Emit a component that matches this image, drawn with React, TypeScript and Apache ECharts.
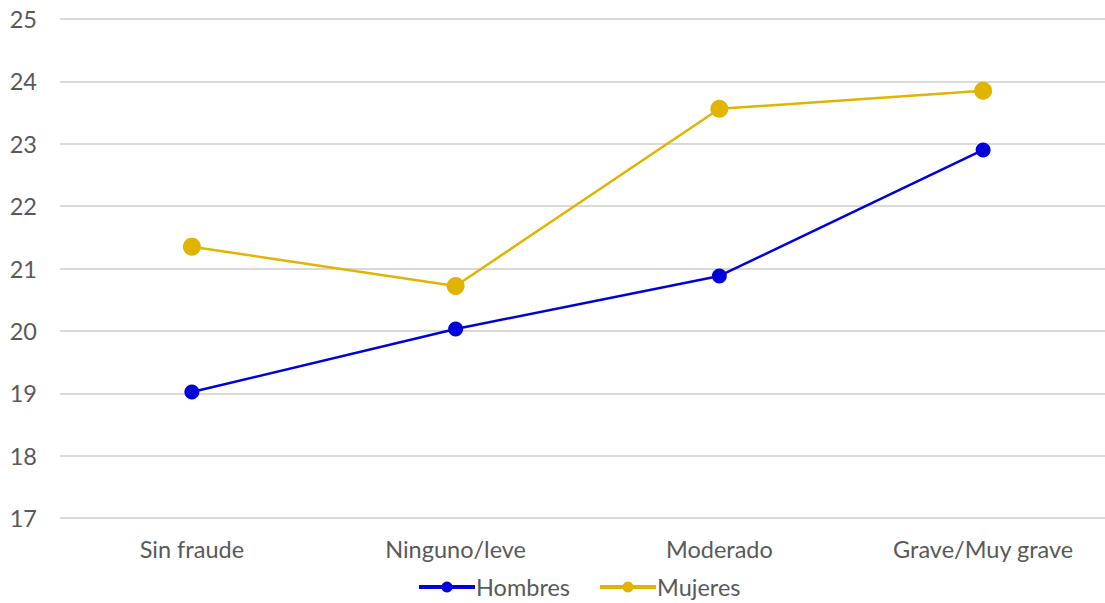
import React, { useEffect, useRef } from "react";
import * as echarts from "echarts";

const categories = ["Sin fraude", "Ninguno/leve", "Moderado", "Grave/Muy grave"];
const hombres = [19.02, 20.03, 20.88, 22.9];
const mujeres = [21.35, 20.72, 23.56, 23.85];

export default function App() {
  const ref = useRef<HTMLDivElement>(null);
  useEffect(() => {
    const chart = echarts.init(ref.current!, null, { renderer: "svg" });
    const font = "Lato, 'Open Sans', sans-serif";
    chart.setOption({
      animation: false,
      textStyle: { fontFamily: font },
      grid: { left: 60, top: 19, right: 5, bottom: 85, containLabel: false },
      legend: {
        bottom: 4,
        left: 417,
        padding: 0,
        itemWidth: 56,
        itemHeight: 14,
        itemGap: 28,
        lineStyle: { width: 4 },
        textStyle: { fontFamily: font, fontSize: 23.5, color: "#595959", padding: [0, 0, 0, -4] },
        data: ["Hombres", "Mujeres"],
      },
      xAxis: {
        type: "category",
        data: categories,
        boundaryGap: true,
        axisLine: { show: false },
        axisTick: { show: false },
        axisLabel: { fontFamily: font, fontSize: 23.5, color: "#595959", margin: 19 },
      },
      yAxis: {
        type: "value",
        min: 17,
        max: 25,
        interval: 1,
        axisLine: { show: false },
        axisTick: { show: false },
        axisLabel: { fontFamily: font, fontSize: 23.5, color: "#595959", margin: 23 },
        splitLine: { lineStyle: { color: "#d9d9d9", width: 2 } },
      },
      series: [
        {
          name: "Hombres",
          type: "line",
          data: hombres,
          symbol: "circle",
          symbolSize: 15,
          itemStyle: { color: "#0000dd" },
          lineStyle: { color: "#0000dd", width: 2.5 },
        },
        {
          name: "Mujeres",
          type: "line",
          data: mujeres,
          symbol: "circle",
          symbolSize: 18,
          itemStyle: { color: "#e0b400" },
          lineStyle: { color: "#e0b400", width: 2.5 },
        },
      ],
    });
    return () => chart.dispose();
  }, []);
  return (
    <div style={{ width: 1105, height: 603, position: "absolute", left: 0, top: 0, overflow: "hidden" }}>
      <div ref={ref} style={{ width: 1120, height: 603 }} />
    </div>
  );
}
